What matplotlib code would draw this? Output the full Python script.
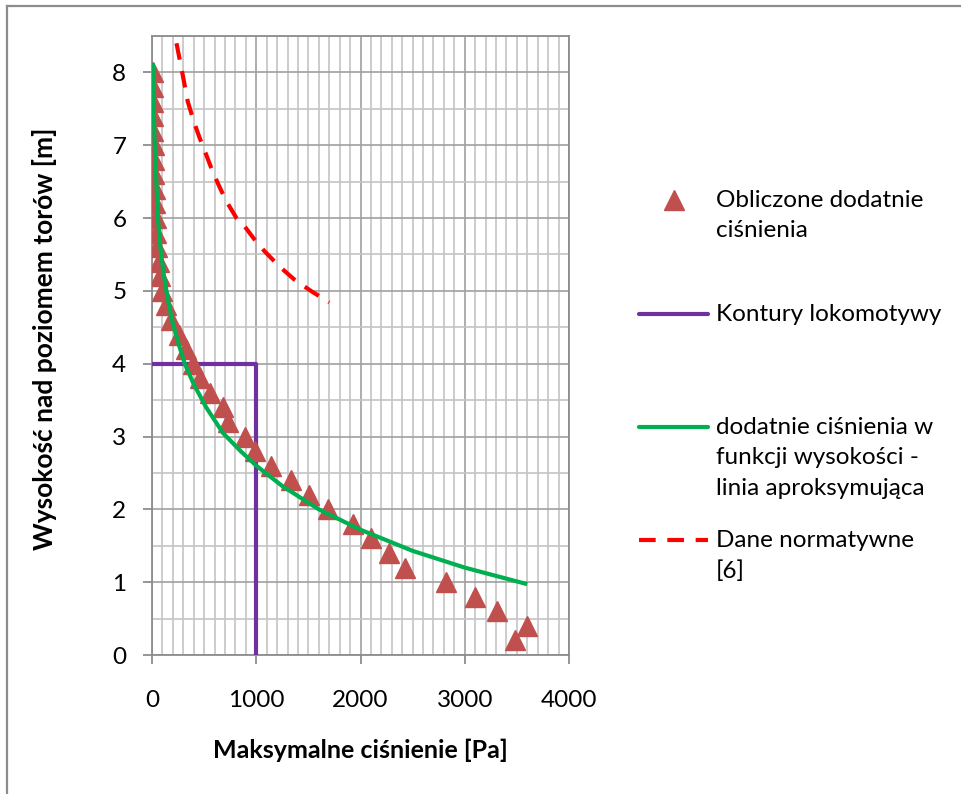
import matplotlib.pyplot as plt
import numpy as np
from matplotlib.lines import Line2D
from matplotlib.ticker import MultipleLocator

plt.rcParams['font.family'] = ['Lato', 'DejaVu Sans']

# obliczone dodatnie cisnienia (trojkaty)
calc_h = [0.2, 0.4, 0.6, 0.8, 1.0, 1.2, 1.4, 1.6, 1.8, 2.0,
          2.2, 2.4, 2.6, 2.8, 3.0, 3.2, 3.4, 3.6, 3.8, 4.0,
          4.2, 4.4, 4.6, 4.8, 5.0, 5.2, 5.4, 5.6, 5.8, 6.0,
          6.2, 6.4, 6.6, 6.8, 7.0, 7.2, 7.4, 7.6, 7.8, 8.0]
calc_p = [3480, 3600, 3310, 3100, 2820, 2425, 2270, 2105, 1930, 1690,
          1505, 1330, 1145, 985, 888, 725, 677, 552, 457, 390,
          330, 260, 185, 130, 100, 80, 63, 52, 42, 36,
          31, 26, 22, 18, 15, 13, 11, 9, 7, 5]

# linia aproksymujaca
fit_p = [8, 15, 25, 40, 57, 80, 110, 150, 200, 260, 314, 400, 520, 680,
         850, 1000, 1250, 1600, 2000, 2500, 3000, 3580]
fit_h = [8.1, 7.6, 7.05, 6.55, 6.0, 5.6, 5.25, 4.9, 4.55, 4.25, 4.0, 3.72, 3.4, 3.05,
         2.8, 2.6, 2.32, 2.0, 1.72, 1.43, 1.2, 0.98]

# dane normatywne [6]
norm_p = [235, 290, 343, 400, 457, 520, 581, 650, 714, 810, 886, 981,
          1076, 1219, 1362, 1524, 1700]
norm_h = [8.4, 8.0, 7.6, 7.33, 7.1, 6.87, 6.64, 6.42, 6.23, 6.0, 5.89, 5.71,
          5.55, 5.34, 5.16, 5.0, 4.84]

# kontury lokomotywy
loco_p = [0, 1000, 1000]
loco_h = [4, 4, 0]

c_tri = '#C0504D'
c_fit = '#00B050'
c_loco = '#7030A0'
c_norm = '#FF0000'

W, H = 961, 794
fig = plt.figure(figsize=(W / 100, H / 100), dpi=100)
ax = fig.add_axes([152 / W, 1 - 655 / H, (569 - 152) / W, (655 - 36) / H])

ax.plot(loco_p, loco_h, color=c_loco, lw=3, zorder=3)
ax.plot(calc_p, calc_h, ls='none', marker='^', ms=14, color=c_tri, mec=c_tri, zorder=4)
ax.plot(fit_p, fit_h, color=c_fit, lw=3, zorder=5)
ax.plot(norm_p, norm_h, color=c_norm, lw=3, ls=(0, (4, 2.8)), zorder=5)

ax.set_xlim(0, 4000)
ax.set_ylim(0, 8.5)
ax.xaxis.set_major_locator(MultipleLocator(1000))
ax.xaxis.set_minor_locator(MultipleLocator(100))
ax.yaxis.set_major_locator(MultipleLocator(1))
ax.yaxis.set_minor_locator(MultipleLocator(0.5))
ax.grid(which='major', color='#a0a0a0', lw=1.2)
ax.grid(which='minor', color='#c4c4c4', lw=1.2)
ax.set_axisbelow(True)
for s in ax.spines.values():
    s.set_color('#8c8c8c')
    s.set_linewidth(1.3)
ax.tick_params(which='major', length=6.5, width=1.3, color='#8c8c8c', labelsize=17.5, pad=12)
ax.tick_params(axis='x', pad=19)
ax.tick_params(which='minor', length=0)

ax.set_xlabel('Maksymalne ciśnienie [Pa]', fontsize=18, fontweight='bold')
ax.set_ylabel('Wysokość nad poziomem torów [m]', fontsize=19, fontweight='bold')
ax.xaxis.set_label_coords(0.5, -0.135)
ax.yaxis.set_label_coords(-0.228, 0.51)

# legenda
def fx(x):
    return x / W

def fy(y):
    return 1 - y / H

fig.add_artist(Line2D([fx(674)], [fy(200)], marker='^', ms=14, color=c_tri, ls='none'))
fig.add_artist(Line2D([fx(639), fx(708)], [fy(314)] * 2, color=c_loco, lw=3, solid_capstyle='round'))
fig.add_artist(Line2D([fx(639), fx(708)], [fy(427)] * 2, color=c_fit, lw=3, solid_capstyle='round'))
fig.add_artist(Line2D([fx(639), fx(708)], [fy(540)] * 2, color=c_norm, lw=3, ls=(0, (4, 2.8))))

leg_labels = [('Obliczone dodatnie\nciśnienia', 200),
              ('Kontury lokomotywy', 314),
              ('dodatnie ciśnienia w\nfunkcji wysokości -\nlinia aproksymująca', 427),
              ('Dane normatywne\n[6]', 540)]
for txt, y in leg_labels:
    fig.text(fx(716), fy(y - 10), txt, fontsize=17.5, va='top', ha='left', linespacing=1.55)

# ramka
fig.add_artist(Line2D([fx(7), 1], [fy(6)] * 2, color='#8c8c8c', lw=1.6))
fig.add_artist(Line2D([fx(7)] * 2, [fy(6), 0], color='#8c8c8c', lw=1.6))

fig.savefig('out.png', dpi=100)
